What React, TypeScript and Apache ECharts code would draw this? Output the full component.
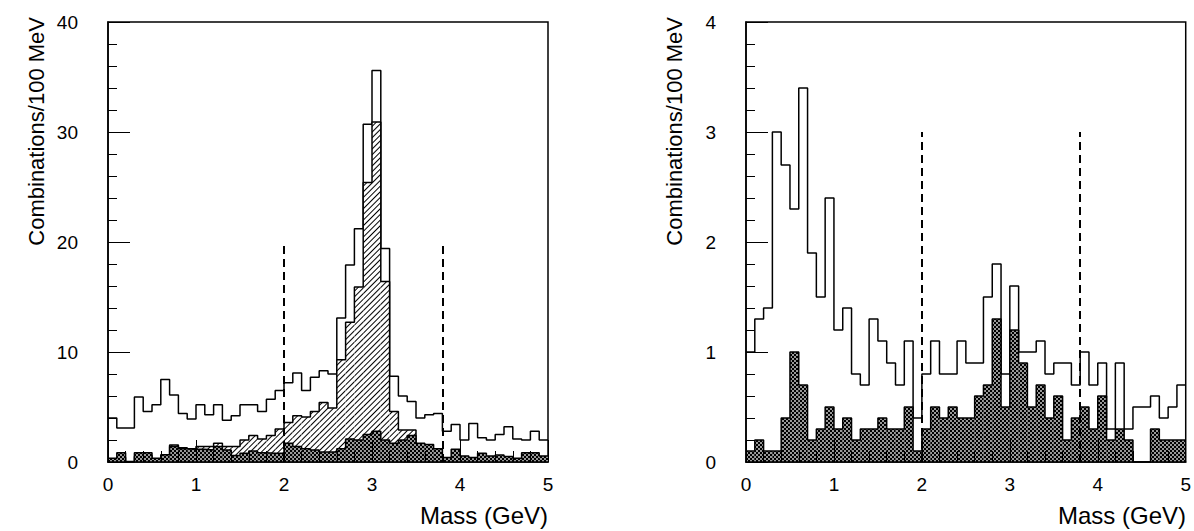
import React, { useEffect, useRef } from "react";
import * as echarts from "echarts";

// ---- data (50 bins of 100 MeV, 0 - 5 GeV) ----
const binWidth = 0.1;
const massBins = Array.from({ length: 50 }, (_, i) => (i * binWidth).toFixed(1));
const massTicks = [0, 1, 2, 3, 4, 5];

// left panel
const openLeft = [
  4.0, 3.1, 3.1, 5.9, 4.6, 5.2, 7.5, 6.1, 4.4, 3.9,
  5.2, 4.3, 5.2, 3.8, 4.2, 5.2, 5.2, 4.6, 5.7, 6.5,
  7.2, 8.1, 6.5, 7.7, 8.3, 8.0, 13.1, 17.9, 21.2, 30.7,
  35.6, 19.4, 7.8, 6.0, 5.5, 4.0, 4.3, 4.4, 2.8, 3.4,
  2.0, 3.5, 2.2, 2.0, 2.5, 3.2, 2.1, 2.0, 2.8, 2.0,
];
const hatchLeft = [
  0.2, 0.4, 0.0, 0.5, 0.6, 0.2, 0.6, 1.55, 1.3, 1.2,
  1.4, 1.4, 1.7, 1.4, 1.4, 2.0, 2.4, 2.1, 2.4, 3.0,
  3.6, 4.2, 4.1, 4.6, 5.4, 4.9, 9.3, 12.7, 15.9, 25.4,
  30.9, 16.4, 4.6, 2.9, 2.9, 0.6, 0.4, 0.3, 0.2, 0.3,
  0.2, 0.2, 0.3, 0.2, 0.2, 0.2, 0.1, 0.2, 0.2, 0.2,
];
const crossLeft = [
  0.33, 0.85, 0.05, 0.85, 0.85, 0.33, 0.65, 1.4, 1.2, 1.15,
  1.15, 1.1, 1.4, 1.1, 0.6, 0.8, 1.0, 0.85, 0.8, 0.8,
  1.7, 1.4, 1.2, 1.1, 0.9, 0.9, 1.2, 2.1, 2.0, 2.5,
  2.8, 2.0, 1.7, 2.0, 2.4, 1.7, 1.6, 1.2, 0.4, 1.15,
  0.55, 0.42, 0.8, 0.55, 0.64, 0.5, 0.33, 0.85, 0.85, 0.55,
];

// right panel
const openRight = [
  1.0, 1.3, 1.4, 3.0, 2.7, 2.3, 3.4, 1.9, 1.5, 2.4,
  1.2, 1.4, 0.8, 0.7, 1.3, 1.1, 0.9, 0.7, 1.1, 0.4,
  0.8, 1.1, 0.8, 0.8, 1.1, 0.9, 0.9, 1.5, 1.8, 0.8,
  1.6, 1.0, 1.0, 1.1, 0.8, 0.9, 0.9, 0.7, 1.0, 0.7,
  0.9, 0.3, 0.9, 0.3, 0.5, 0.5, 0.6, 0.4, 0.5, 0.7,
];
const crossRight = [
  0.1, 0.2, 0.1, 0.1, 0.4, 1.0, 0.7, 0.2, 0.3, 0.5,
  0.3, 0.4, 0.2, 0.3, 0.3, 0.4, 0.3, 0.3, 0.5, 0.1,
  0.3, 0.5, 0.4, 0.5, 0.4, 0.4, 0.6, 0.7, 1.3, 0.5,
  1.2, 0.9, 0.5, 0.7, 0.4, 0.6, 0.2, 0.4, 0.5, 0.3,
  0.6, 0.2, 0.3, 0.2, 0.0, 0.0, 0.3, 0.2, 0.2, 0.2,
];

// mass window (dashed lines)
const massCuts = [2.0, 3.8];
const cutHeightLeft = 20;
const cutHeightRight = 3;

const yTitle = "Combinations/100 MeV";
const xTitle = "Mass (GeV)";

const FONT = '"Liberation Sans", Arial, Helvetica, sans-serif';

const hatchDecal = {
  symbol: "rect",
  symbolSize: 1,
  dashArrayX: [1, 0],
  dashArrayY: [1, 3],
  rotation: -Math.PI / 4,
  color: "#000",
  backgroundColor: "#fff",
};
const crossDecal = {
  symbol: "rect",
  symbolSize: 0.8,
  dashArrayX: [[2, 2], [0, 2, 2, 0]],
  dashArrayY: [2, 0],
  color: "#fff",
  backgroundColor: "#000",
};

function stepData(vals: number[]) {
  const pts = vals.map((v, i) => [i * binWidth, v]);
  pts.push([vals.length * binWidth, vals[vals.length - 1]]);
  return pts;
}

function buildPanel(
  idx: number,
  left: number,
  yMax: number,
  yInt: number,
  open: number[],
  hatch: number[] | null,
  cross: number[],
  cutTop: number
) {
  const grid = {
    left,
    top: 22,
    width: 440,
    height: 440,
    show: true,
    borderColor: "#000",
    borderWidth: 1.5,
    backgroundColor: "transparent",
  };
  const xVal = {
    type: "value",
    gridIndex: idx,
    min: massTicks[0],
    max: massTicks[massTicks.length - 1],
    interval: 1,
    position: "bottom",
    z: 10,
    axisLine: { show: true, onZero: false, lineStyle: { color: "#000", width: 1.5 } },
    axisTick: { show: true, inside: true, length: 22, lineStyle: { color: "#000", width: 1 } },
    minorTick: { show: true, splitNumber: 5, length: 11, lineStyle: { color: "#000", width: 1 } },
    axisLabel: { color: "#000", fontSize: 19, fontFamily: FONT, margin: 13 },
    splitLine: { show: false },
    minorSplitLine: { show: false },
  };
  const xCat = {
    type: "category",
    gridIndex: idx,
    data: massBins,
    show: false,
    position: "bottom",
    boundaryGap: true,
  };
  const yAx = {
    type: "value",
    gridIndex: idx,
    min: 0,
    max: yMax,
    interval: yInt,
    z: 10,
    axisLine: { show: true, onZero: false, lineStyle: { color: "#000", width: 1.5 } },
    axisTick: { show: true, inside: true, length: 22, lineStyle: { color: "#000", width: 1 } },
    minorTick: { show: true, splitNumber: 5, length: 9, lineStyle: { color: "#000", width: 1 } },
    axisLabel: { color: "#000", fontSize: 19, fontFamily: FONT, margin: 30 },
    splitLine: { show: false },
    minorSplitLine: { show: false },
  };
  const xv = idx * 2;
  const xc = idx * 2 + 1;
  const series: any[] = [];
  series.push({
    type: "line",
    xAxisIndex: xv,
    yAxisIndex: idx,
    step: "end",
    symbol: "none",
    data: stepData(open),
    lineStyle: { color: "#000", width: 1.5 },
    z: 2,
    markLine: {
      silent: true,
      symbol: "none",
      z: 9,
      label: { show: false },
      lineStyle: { color: "#000", width: 2, type: [8, 5] },
      data: massCuts.map((c) => [{ coord: [c, 0] }, { coord: [c, cutTop] }]),
    },
  });
  if (hatch) {
    series.push({
      type: "bar",
      xAxisIndex: xc,
      yAxisIndex: idx,
      data: hatch,
      barWidth: "100%",
      barGap: "-100%",
      itemStyle: { color: "#fff", decal: hatchDecal },
      z: 3,
    });
    series.push({
      type: "line",
      xAxisIndex: xv,
      yAxisIndex: idx,
      step: "end",
      symbol: "none",
      data: stepData(hatch),
      lineStyle: { color: "#000", width: 1.5 },
      z: 4,
    });
  }
  series.push({
    type: "bar",
    xAxisIndex: xc,
    yAxisIndex: idx,
    data: cross,
    barWidth: "100%",
    barGap: "-100%",
    itemStyle: { color: "#000", decal: crossDecal },
    z: 5,
  });
  series.push({
    type: "line",
    xAxisIndex: xv,
    yAxisIndex: idx,
    step: "end",
    symbol: "none",
    data: stepData(cross),
    lineStyle: { color: "#000", width: 1.5 },
    z: 6,
  });
  return { grid, xAxes: [xVal, xCat], yAxis: yAx, series };
}

function titles(axisLeft: number, titleX: number) {
  return [
    {
      type: "text",
      x: titleX,
      y: 17,
      rotation: Math.PI / 2,
      style: {
        text: yTitle,
        font: `22px ${FONT}`,
        fill: "#000",
        align: "right",
        verticalAlign: "middle",
        textAlign: "right",
        textVerticalAlign: "middle",
      },
    },
    {
      type: "text",
      x: axisLeft + 440,
      y: 515,
      style: {
        text: xTitle,
        font: `24px ${FONT}`,
        fill: "#000",
        align: "right",
        verticalAlign: "middle",
        textAlign: "right",
        textVerticalAlign: "middle",
      },
    },
  ];
}

export default function App() {
  const ref = useRef<HTMLDivElement>(null);
  useEffect(() => {
    if (!ref.current) return;
    const chart = echarts.init(ref.current, null, { renderer: "svg" });
    const p0 = buildPanel(0, 108, 40, 10, openLeft, hatchLeft, crossLeft, cutHeightLeft);
    const p1 = buildPanel(1, 746, 4, 1, openRight, null, crossRight, cutHeightRight);
    chart.setOption({
      animation: false,
      backgroundColor: "#fff",
      textStyle: { fontFamily: FONT },
      grid: [p0.grid, p1.grid],
      xAxis: [...p0.xAxes, ...p1.xAxes],
      yAxis: [p0.yAxis, p1.yAxis],
      series: [...p0.series, ...p1.series],
      graphic: [...titles(108, 36), ...titles(746, 674)],
    });
    return () => chart.dispose();
  }, []);
  return (
    <div
      ref={ref}
      style={{ position: "absolute", left: 0, top: 0, width: 1194, height: 531, background: "#fff" }}
    />
  );
}
